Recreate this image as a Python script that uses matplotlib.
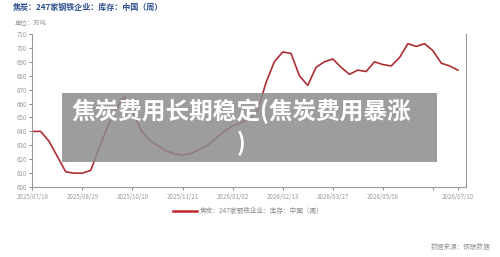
import matplotlib.pyplot as plt
from matplotlib.patches import Rectangle

plt.rcParams['font.family'] = ['Noto Sans CJK SC', 'DejaVu Sans']

# weekly coke inventory, 247 steel mills (10k t)
weeks = list(range(52))
stock = [640, 640, 633, 622, 611, 610, 610, 612, 628, 643,
         656, 665, 655, 641, 634, 630, 626, 624, 623, 624,
         627, 630, 635, 640, 644, 646, 649, 655, 675, 690,
         697, 696, 680, 673, 686, 690, 692, 686, 681, 684,
         683, 690, 688, 687, 693, 703, 701, 703, 698, 689,
         687, 684]
tick_pos = [0, 6, 12, 18, 24, 30, 36, 42, 48, 51]
tick_labels = ['2025/07/18', '2025/08/29', '2025/10/10', '2025/11/21', '2026/01/02',
               '2026/02/13', '2026/03/27', '2026/05/08', '', '2026/07/10']
series_name = '焦炭：247家钢铁企业：库存：中国（周）'

fig = plt.figure(figsize=(5, 2.57), dpi=100)
ax = fig.add_axes([0.0646, 0.272, 0.868, 0.596])

ax.plot(weeks, stock, color='#ad2e32', lw=1.2, solid_joinstyle='round')
ax.set_xlim(0, 52)
ax.set_ylim(600, 710)
ax.set_yticks(range(600, 711, 10))
ax.set_xticks(tick_pos)
ax.set_xticklabels(tick_labels)
ax.tick_params(axis='both', colors='#888888', labelcolor='#999999', length=2.5, width=0.7)
ax.tick_params(axis='y', labelsize=4.4, pad=1.5)
ax.tick_params(axis='x', labelsize=4.4, pad=1.5)
ax.spines['top'].set_visible(False)
for s in ['left', 'bottom', 'right']:
    ax.spines[s].set_color('#999999')
    ax.spines[s].set_linewidth(0.8)

fig.text(0.025, 0.973, series_name, fontsize=5.8, fontweight='bold',
         color='#2d4e8e', va='center', ha='left')
fig.text(0.03, 0.91, '单位：万吨', fontsize=4.6, color='#999999', va='center', ha='left')

# legend
fig.lines.append(plt.Line2D([0.346, 0.394], [0.179, 0.179], color='#c0272d', lw=1.8,
                            transform=fig.transFigure))
fig.text(0.4, 0.179, series_name, fontsize=4.8, color='#888888', va='center', ha='left')
fig.text(0.98, 0.04, '数据来源：钢联数据', fontsize=4.8, color='#999999', va='center', ha='right')

# overlay caption
fig.patches.append(Rectangle((0.124, 0.37), 0.75, 0.268, transform=fig.transFigure,
                             facecolor='#8c8c8c', alpha=0.85, edgecolor='none', zorder=5))
fig.text(0.482, 0.505, '焦炭费用长期稳定(焦炭费用暴涨\n)', fontsize=17, fontweight='bold',
         color='white', ha='center', va='center', linespacing=1.3, zorder=6)

plt.savefig('out.png', dpi=100)
